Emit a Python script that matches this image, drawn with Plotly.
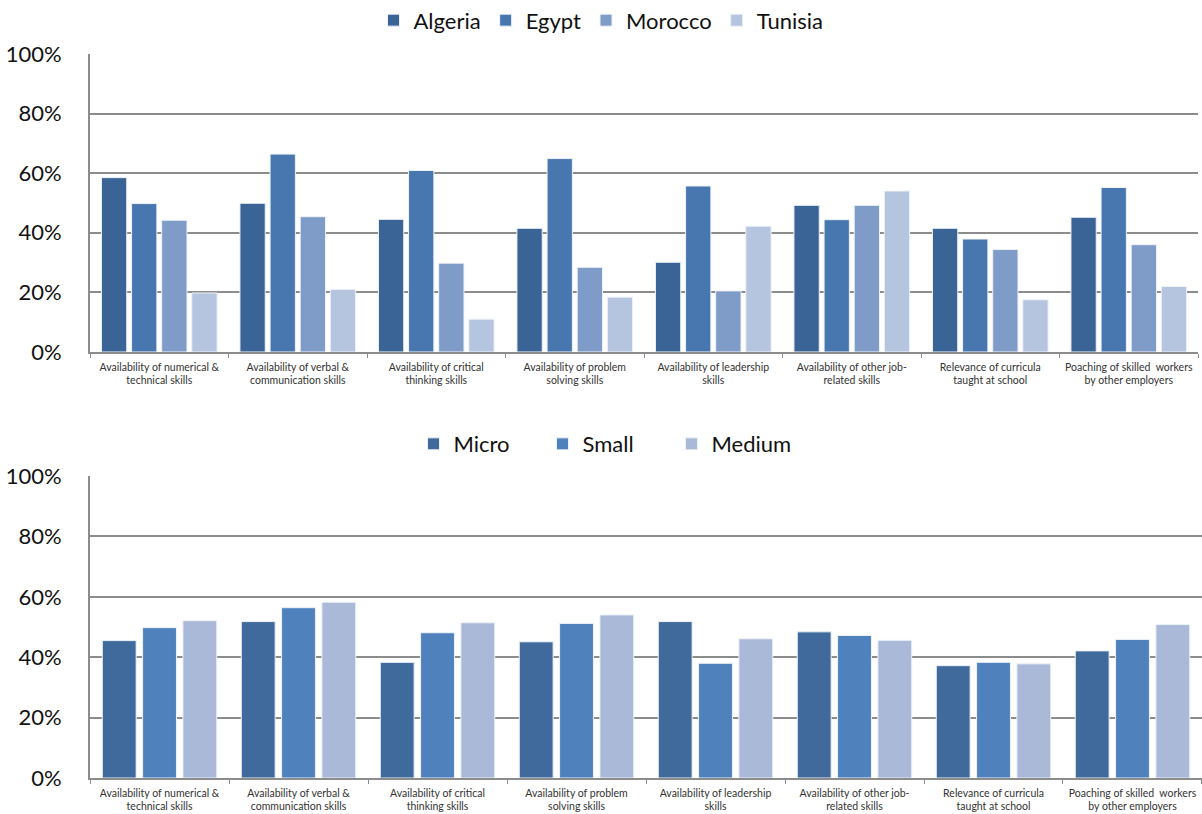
import plotly.graph_objects as go

# Skill constraint categories (x axis)
categories = [
    "Availability of numerical &<br>technical skills",
    "Availability of verbal &<br>communication skills",
    "Availability of critical<br>thinking skills",
    "Availability of problem<br>solving skills",
    "Availability of leadership<br>skills",
    "Availability of other job-<br>related skills",
    "Relevance of curricula<br>taught at school",
    "Poaching of skilled  workers<br>by other employers",
]
cat_ids = [f"c{i}" for i in range(len(categories))]

# Share of firms (%) by country
algeria = [58.5, 49.9, 44.5, 41.5, 30.1, 49.2, 41.5, 45.2]
egypt = [49.8, 66.4, 60.9, 64.9, 55.7, 44.4, 37.9, 55.2]
morocco = [44.2, 45.4, 29.8, 28.4, 20.5, 49.2, 34.4, 36.0]
tunisia = [19.8, 21.0, 11.0, 18.4, 42.2, 54.0, 17.5, 22.0]

# Share of firms (%) by firm size
micro = [45.5, 51.8, 38.3, 45.1, 51.8, 48.4, 37.2, 42.1]
small = [49.8, 56.4, 48.1, 51.2, 38.0, 47.2, 38.3, 45.9]
medium = [52.1, 58.2, 51.4, 54.0, 46.1, 45.6, 37.8, 50.8]

y_ticks = [0, 20, 40, 60, 80, 100]
y_labels = ["0%", "20%", "40%", "60%", "80%", "100%"]

FONT = "Lato"
GRID = "#8c8c8c"

fig = go.Figure()

country_series = [
    ("Algeria", algeria, "#3b6496"),
    ("Egypt", egypt, "#4877b0"),
    ("Morocco", morocco, "#7f9bc8"),
    ("Tunisia", tunisia, "#b5c4df"),
]
for name, vals, col in country_series:
    fig.add_trace(go.Bar(
        x=cat_ids, y=vals, name=name, marker_color=col,
        marker_line=dict(color="#eef2f8", width=1),
        xaxis="x", yaxis="y", legend="legend", offsetgroup=name,
    ))

size_series = [
    ("Micro", micro, "#3f6a9b"),
    ("Small", small, "#4f81bd"),
    ("Medium", medium, "#aab9d8"),
]
for name, vals, col in size_series:
    fig.add_trace(go.Bar(
        x=cat_ids, y=vals, name=name, marker_color=col,
        marker_line=dict(color="#eef2f8", width=1),
        xaxis="x2", yaxis="y2", legend="legend2", offsetgroup=name,
    ))

xaxis_common = dict(
    type="category",
    tickmode="array", tickvals=cat_ids, ticktext=categories,
    tickson="boundaries", ticks="outside", ticklen=4, tickwidth=1,
    tickcolor=GRID, showline=True, linecolor=GRID, linewidth=2,
    showgrid=False, tickfont=dict(family=FONT, size=10.5, color="#333333"),
    ticklabelstandoff=4, fixedrange=True,
)
yaxis_common = dict(
    range=[0, 100], tickmode="array", tickvals=y_ticks, ticktext=y_labels,
    showgrid=True, gridcolor=GRID, gridwidth=2,
    showline=True, linecolor=GRID, linewidth=2,
    zeroline=False, ticks="", ticklabelstandoff=22,
    tickfont=dict(family=FONT, size=22, color="#111111"), fixedrange=True,
)

fig.update_layout(
    width=1202, height=814,
    margin=dict(l=0, r=0, t=0, b=0, autoexpand=False),
    paper_bgcolor="white", plot_bgcolor="white",
    barmode="group",
    bargap=0.13, bargroupgap=0.16,
    font=dict(family=FONT),
    xaxis=dict(domain=[0.0749, 0.9967], anchor="y", **xaxis_common),
    yaxis=dict(domain=[0.5676, 0.9337], anchor="x", **yaxis_common),
    xaxis2=dict(domain=[0.0749, 1.0], anchor="y2", **xaxis_common),
    yaxis2=dict(domain=[0.0442, 0.4152], anchor="x2", **yaxis_common),
    legend=dict(
        orientation="h", x=0.5, xanchor="center", y=0.975, yanchor="middle",
        font=dict(family=FONT, size=22, color="#111111"),
        itemwidth=30, tracegroupgap=0, bgcolor="rgba(0,0,0,0)",
    ),
    legend2=dict(
        orientation="h", x=0.505, xanchor="center", y=0.4545, yanchor="middle",
        font=dict(family=FONT, size=22, color="#111111"),
        itemwidth=30, entrywidth=84, bgcolor="rgba(0,0,0,0)",
    ),
)

fig.write_html("out.html")
